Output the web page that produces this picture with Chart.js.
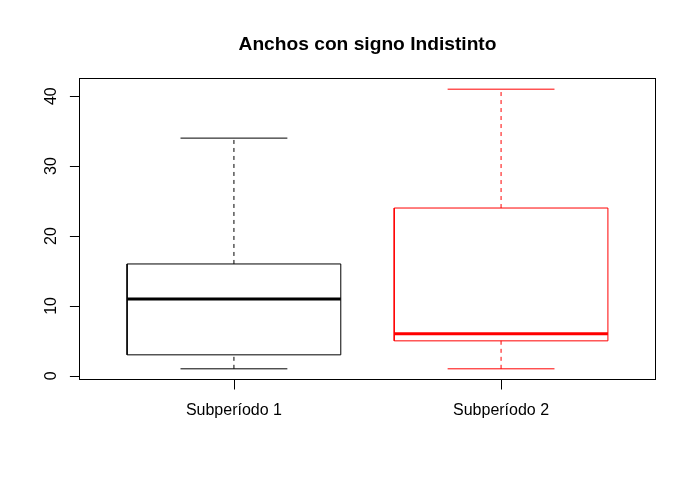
<!DOCTYPE html>
<html>
<head>
<meta charset="utf-8">
<script src="https://cdn.jsdelivr.net/npm/chart.js@4/dist/chart.umd.min.js"></script>
<style>
html,body{margin:0;padding:0;background:#fff;}
#wrap{width:696px;height:478px;}
</style>
</head>
<body>
<div id="wrap"><canvas id="c" width="696" height="478"></canvas></div>
<script>
// ---- data ----
const categories = ["Subperíodo 1", "Subperíodo 2"];
const mins    = [1, 1];
const q1s     = [3, 5];
const medians = [11, 6];
const q3s     = [16, 24];
const maxs    = [34, 41];
const colors  = ["#000000", "#FF0000"];
const yTicks  = [0, 10, 20, 30, 40];
const title   = "Anchos con signo Indistinto";

const BOX_HALF = 0.4, CAP_HALF = 0.2;
const datasets = [];
categories.forEach((cat, i) => {
  const x = i + 1, col = colors[i];
  const base = {showLine: true, borderColor: col, backgroundColor: col, pointRadius: 0, fill: false, tension: 0, borderWidth: 1};
  // box
  datasets.push(Object.assign({}, base, {label: cat + " caja", data: [
    {x: x - BOX_HALF, y: q1s[i]}, {x: x + BOX_HALF, y: q1s[i]}, {x: x + BOX_HALF, y: q3s[i]},
    {x: x - BOX_HALF, y: q3s[i]}, {x: x - BOX_HALF, y: q1s[i]}]}));
  // whiskers (dashed)
  datasets.push(Object.assign({}, base, {label: cat + " bigote sup", borderDash: [4, 4], data: [{x: x, y: q3s[i]}, {x: x, y: maxs[i]}]}));
  datasets.push(Object.assign({}, base, {label: cat + " bigote inf", borderDash: [4, 4], data: [{x: x, y: mins[i]}, {x: x, y: q1s[i]}]}));
  // caps
  datasets.push(Object.assign({}, base, {label: cat + " max", data: [{x: x - CAP_HALF, y: maxs[i]}, {x: x + CAP_HALF, y: maxs[i]}]}));
  datasets.push(Object.assign({}, base, {label: cat + " min", data: [{x: x - CAP_HALF, y: mins[i]}, {x: x + CAP_HALF, y: mins[i]}]}));
  // median
  datasets.push(Object.assign({}, base, {label: cat + " mediana", borderWidth: 3, borderCapStyle: 'butt', data: [{x: x - BOX_HALF, y: medians[i]}, {x: x + BOX_HALF, y: medians[i]}]}));
});

const dataMin = Math.min(...mins), dataMax = Math.max(...maxs);
const ext = (dataMax - dataMin) * 0.04;
const xExt = (categories.length) * 0.04;

const FONT = '"Liberation Sans", Arial, sans-serif';

const axesPlugin = {
  id: 'rAxes',
  afterDraw(chart) {
    const ctx = chart.ctx, a = chart.chartArea, xs = chart.scales.x, ys = chart.scales.y;
    ctx.save();
    ctx.strokeStyle = '#000'; ctx.fillStyle = '#000'; ctx.lineWidth = 1; ctx.setLineDash([]);
    // frame
    ctx.strokeRect(Math.round(a.left) + 0.5, Math.round(a.top) + 0.5, Math.round(a.right - a.left) - 1, Math.round(a.bottom - a.top) - 1);
    // y axis
    const yl = Math.round(a.left) + 0.5;
    ctx.beginPath();
    ctx.moveTo(yl, ys.getPixelForValue(yTicks[0])); ctx.lineTo(yl, ys.getPixelForValue(yTicks[yTicks.length - 1]));
    yTicks.forEach(v => { const p = Math.round(ys.getPixelForValue(v)) + 0.5; ctx.moveTo(yl, p); ctx.lineTo(yl - 9.6, p); });
    ctx.stroke();
    ctx.font = '16px ' + FONT; ctx.textAlign = 'center'; ctx.textBaseline = 'alphabetic';
    yTicks.forEach(v => {
      const p = ys.getPixelForValue(v);
      ctx.save(); ctx.translate(56, p); ctx.rotate(-Math.PI / 2); ctx.fillText(String(v), 0, 0); ctx.restore();
    });
    // x axis
    const xb = Math.round(a.bottom) - 0.5;
    ctx.beginPath();
    ctx.moveTo(xs.getPixelForValue(1), xb); ctx.lineTo(xs.getPixelForValue(categories.length), xb);
    categories.forEach((c, i) => { const p = Math.round(xs.getPixelForValue(i + 1)) + 0.5; ctx.moveTo(p, xb); ctx.lineTo(p, xb + 10); });
    ctx.stroke();
    categories.forEach((c, i) => ctx.fillText(c, xs.getPixelForValue(i + 1), 415));
    // title
    ctx.font = 'bold 19.2px ' + FONT;
    ctx.fillText(title, (a.left + a.right) / 2, 50);
    ctx.restore();
  }
};

new Chart(document.getElementById('c'), {
  type: 'scatter',
  data: {datasets},
  options: {
    responsive: false,
    animation: false,
    devicePixelRatio: 1,
    layout: {padding: {left: 79, right: 40, top: 78, bottom: 98}},
    plugins: {legend: {display: false}, tooltip: {enabled: false}, title: {display: false}},
    scales: {
      x: {type: 'linear', display: false, min: 0.5 - xExt, max: categories.length + 0.5 + xExt},
      y: {type: 'linear', display: false, min: dataMin - ext, max: dataMax + ext}
    }
  },
  plugins: [axesPlugin]
});
</script>
</body>
</html>
